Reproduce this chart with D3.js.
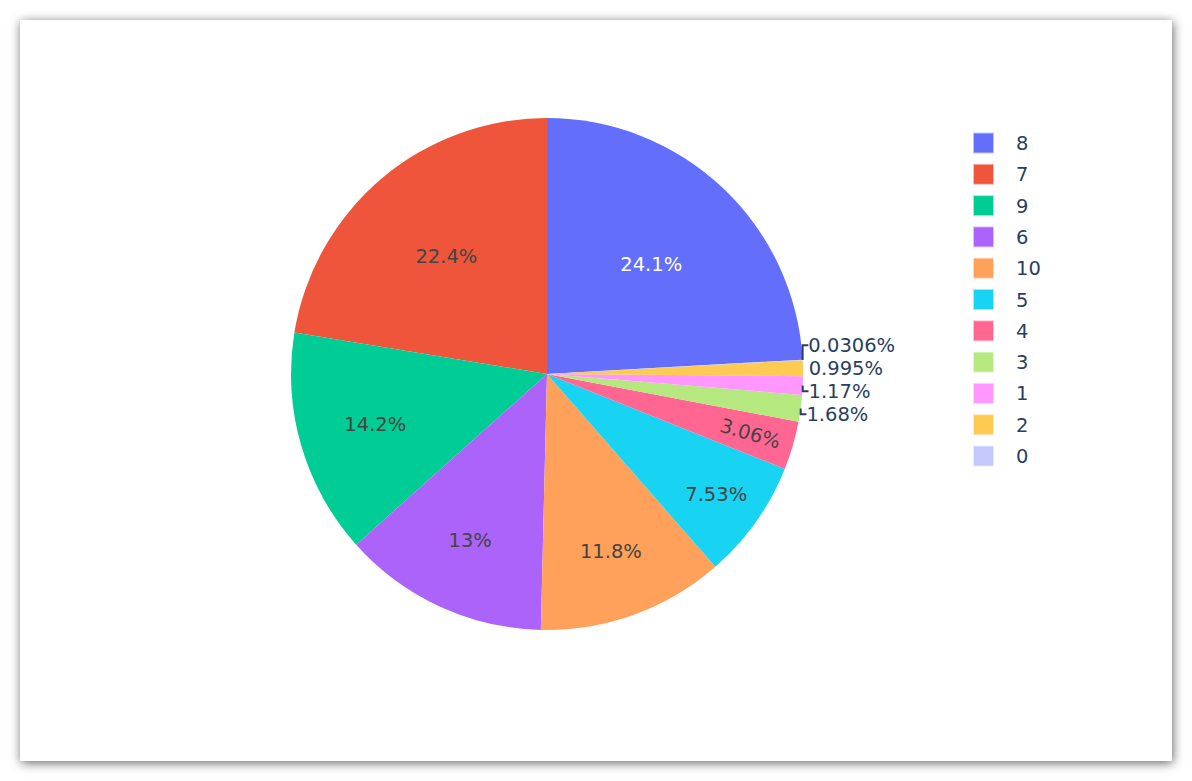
<!DOCTYPE html>
<html>
<head>
<meta charset="utf-8">
<script src="https://cdn.jsdelivr.net/npm/d3@7"></script>
<style>
	html, body { margin: 0; padding: 0; background: #fff; width: 1192px; height: 781px; overflow: hidden; }
	#card { position: absolute; left: 20px; top: 20px; width: 1152px; height: 741px; background: #fff; box-shadow: 1px 2px 10px rgba(0, 0, 0, 0.6); }
	#chart { position: absolute; left: 0; top: 0; }
</style>
</head>
<body>
<div id="card"></div>
<svg id="chart" width="1192" height="781"></svg>
<script>
const labels = [ '8', '7', '9', '6', '10', '5', '4', '3', '1', '2', '0' ];
const values = [ 24.1, 22.4, 14.2, 13.0, 11.8, 7.53, 3.06, 1.68, 1.17, 0.995, 0.0306 ];
const colors = [ '#636efa', '#EF553B', '#00cc96', '#ab63fa', '#FFA15A', '#19d3f3', '#FF6692', '#B6E880', '#FF97FF', '#FECB52', '#c6c9fd' ];

const PieChart = {
	cx: 547,
	cy: 374,
	radius: 256,
	textPad: 4,
	fontSize: 19.5,
	fontFamily: '"DejaVu Sans", Verdana, sans-serif',
	textColor: '#2a3f5f',
	legendX: 973,
	legendY: 143,
	legendStep: 31.3,

	draw: function() {
		const self = this;
		let svg = d3.select('#chart');
		let total = d3.sum(values);
		let firstAngle = values[0] / total * Math.PI * 2;
		// plotly goes counterclockwise: the first slice ends at 12 o'clock
		let pie = d3.pie()
			.sort(null)
			.value(d => d)
			.startAngle(firstAngle)
			.endAngle(firstAngle - Math.PI * 2);
		let slices = pie(values);
		let percentFormat = d3.format('.3~g');

		slices.forEach((s, i) => {
			s.label = labels[i];
			s.color = colors[i];
			s.text = percentFormat(s.value / total * 100) + '%';
		});

		self.drawSlices(svg, slices);
		self.placeTexts(svg, slices);
		self.scootOutside(slices);
		self.drawTexts(svg, slices);
		self.drawLegend(svg);
	},

	drawSlices: function(svg, slices) {
		const self = this;
		let arc = d3.arc().innerRadius(0).outerRadius(self.radius);

		svg.append('g')
			.attr('transform', 'translate(' + self.cx + ',' + self.cy + ')')
			.selectAll('path')
			.data(slices)
			.enter()
			.append('path')
			.attr('d', arc)
			.style('fill', d => d.color);
	},

	measure: function(svg, text) {
		const self = this;
		let t = svg.append('text')
			.style('font-family', self.fontFamily)
			.style('font-size', self.fontSize + 'px')
			.text(text);
		let bb = t.node().getBBox();
		t.remove();
		return { width: bb.width, height: bb.height };
	},

	calcMaxHalfSize: function(a, halfAngle, r) {
		let q = a + 1 / (2 * Math.tan(halfAngle));
		return r * Math.min(
			1 / (Math.sqrt(q * q + 0.5) + q),
			1 / (Math.sqrt(a * a + 0.5) + a)
		);
	},

	calcRotate: function(t) {
		return (180 / Math.PI * t + 720) % 180 - 90;
	},

	placeTexts: function(svg, slices) {
		const self = this;
		let r = self.radius;

		slices.forEach(s => {
			let bb = self.measure(svg, s.text);
			let mid = (s.startAngle + s.endAngle) / 2;
			let half = Math.abs(s.endAngle - s.startAngle) / 2;
			let px = r * Math.sin(mid);
			let py = -r * Math.cos(mid);
			let transforms = [];

			s.bb = bb;
			s.px = px;
			s.py = py;

			// horizontal text inside a circle inscribed in the slice
			let rIns = Math.min(1 / (1 + 1 / Math.sin(half)), 0.5);
			let diameter = Math.sqrt(bb.width * bb.width + bb.height * bb.height);
			transforms.push({ scale: rIns * r * 2 / diameter, rCenter: 1 - rIns, rotate: 0 });

			let r2 = r - 2 * self.textPad;
			let a = bb.width / bb.height;
			let hs = self.calcMaxHalfSize(a, half, r2);
			transforms.push({ scale: hs * 2 / bb.height, rCenter: Math.cos(hs / r2) - a * hs / r2, rotate: self.calcRotate(mid) });

			a = bb.height / bb.width;
			hs = self.calcMaxHalfSize(a, half, r2);
			transforms.push({ scale: hs * 2 / bb.width, rCenter: Math.cos(hs / r2) - a * hs / r2, rotate: self.calcRotate(mid + Math.PI / 2) });

			let best = transforms[0].scale >= 1 ? transforms[0] : transforms.reduce((m, t) => t.scale > m.scale ? t : m);

			if (best.scale >= 1) {
				s.outside = false;
				s.tx = self.cx + px * best.rCenter;
				s.ty = self.cy + py * best.rCenter;
				s.rotate = best.rotate;
			}
			else {
				let dx = bb.width / 2 * (px < 0 ? -1 : 1);
				let dy = bb.height / 2 * (py < 0 ? -1 : 1);
				s.outside = true;
				s.tx = self.cx + px + dx + Math.abs(dy) * (dx > 0 ? 1 : -1) / 2;
				s.ty = self.cy + py + dy / (1 + px * px / (py * py));
				s.baseY = s.ty;
				s.rotate = 0;
			}
		});
	},

	scootOutside: function(slices) {
		let outside = slices.filter(s => s.outside);

		[ 1, -1 ].forEach(side => {
			let onSide = outside.filter(s => (s.px >= 0 ? 1 : -1) == side);
			let top = onSide.filter(s => s.py < 0).sort((a, b) => b.ty - a.ty);
			let bottom = onSide.filter(s => s.py >= 0).sort((a, b) => a.ty - b.ty);
			let prev = null;

			for (let i = 0; i < top.length; i++) {
				if (prev && top[i].ty > prev.ty - prev.bb.height)
					top[i].ty = prev.ty - prev.bb.height;
				prev = top[i];
			}

			prev = top.length ? top[0] : null;

			for (let i = 0; i < bottom.length; i++) {
				if (prev && bottom[i].ty < prev.ty + prev.bb.height)
					bottom[i].ty = prev.ty + prev.bb.height;
				prev = bottom[i];
			}
		});
	},

	drawTexts: function(svg, slices) {
		const self = this;
		let g = svg.append('g');

		slices.forEach(s => {
			let fill;

			if (s.outside) {
				fill = self.textColor;

				if (Math.abs(s.ty - s.baseY) > 0.5) {
					let sign = s.px < 0 ? -1 : 1;
					g.append('path')
						.attr('d', 'M' + (self.cx + s.px) + ',' + (self.cy + s.py) + 'V' + s.ty + 'h' + (sign * s.bb.height / 4))
						.style('fill', 'none')
						.style('stroke', self.textColor)
						.style('stroke-width', 2);
				}
			}
			else {
				let c = d3.rgb(s.color);
				let brightness = (c.r * 299 + c.g * 587 + c.b * 114) / 1000;
				fill = brightness > 128 ? '#444' : '#fff';
			}

			g.append('text')
				.attr('transform', 'translate(' + s.tx + ',' + s.ty + ') rotate(' + s.rotate + ')')
				.attr('text-anchor', 'middle')
				.attr('dy', '0.36em')
				.style('font-family', self.fontFamily)
				.style('font-size', self.fontSize + 'px')
				.style('fill', fill)
				.text(s.text);
		});
	},

	drawLegend: function(svg) {
		const self = this;
		let items = svg.append('g')
			.selectAll('g')
			.data(labels)
			.enter()
			.append('g')
			.attr('transform', (d, i) => 'translate(' + self.legendX + ',' + (self.legendY + i * self.legendStep) + ')');

		items.append('rect')
			.attr('x', 1)
			.attr('y', -9.5)
			.attr('width', 19)
			.attr('height', 19)
			.style('fill', (d, i) => colors[i])
			.style('stroke', (d, i) => colors[i])
			.style('stroke-opacity', 0.4)
			.style('stroke-width', 2);

		items.append('text')
			.attr('x', 43)
			.attr('dy', '0.36em')
			.style('font-family', self.fontFamily)
			.style('font-size', self.fontSize + 'px')
			.style('fill', self.textColor)
			.text(d => d);
	}
}

PieChart.draw();
</script>
</body>
</html>
